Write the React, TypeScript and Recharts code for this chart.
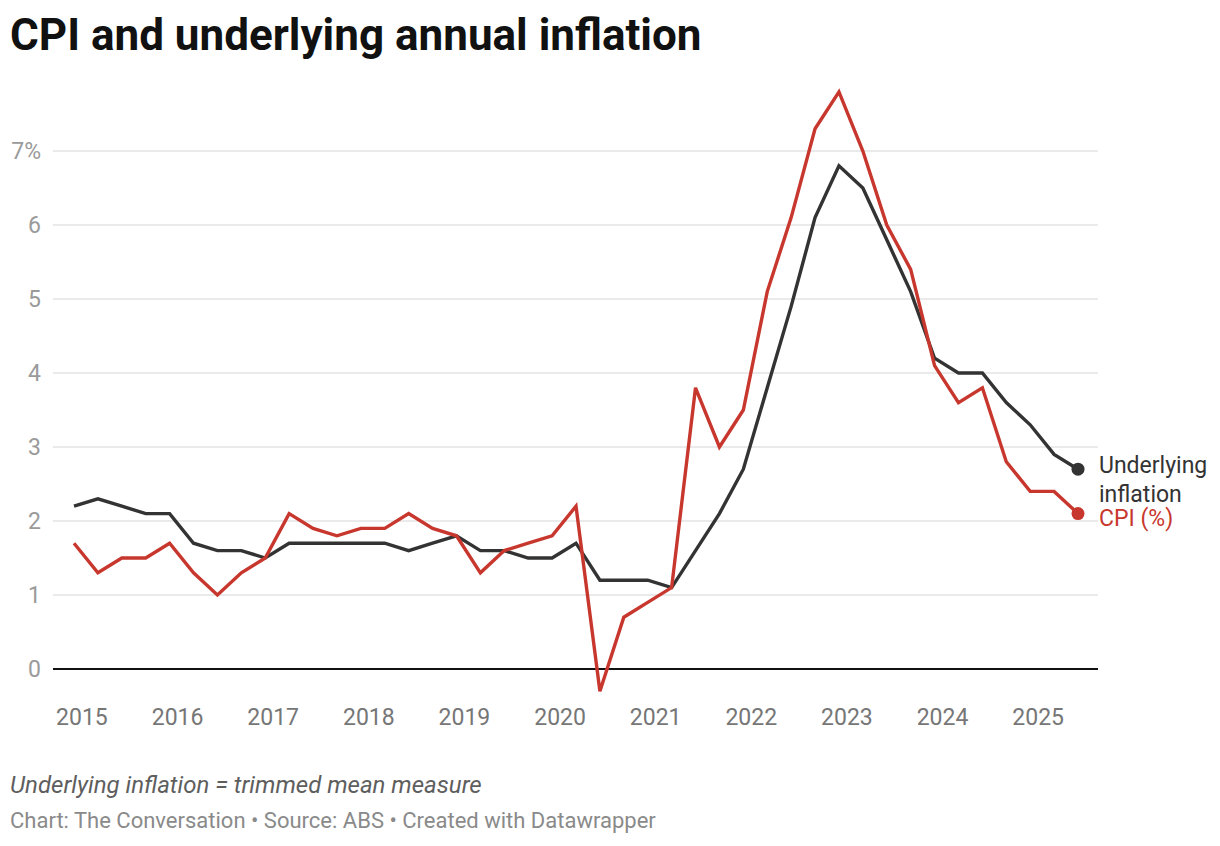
import React from 'react';
import { LineChart, Line, XAxis, YAxis, CartesianGrid, ReferenceLine } from 'recharts';

// quarter end months, Dec 2014 to Jun 2025
const quarters = [
  '2014-12',
  '2015-03', '2015-06', '2015-09', '2015-12',
  '2016-03', '2016-06', '2016-09', '2016-12',
  '2017-03', '2017-06', '2017-09', '2017-12',
  '2018-03', '2018-06', '2018-09', '2018-12',
  '2019-03', '2019-06', '2019-09', '2019-12',
  '2020-03', '2020-06', '2020-09', '2020-12',
  '2021-03', '2021-06', '2021-09', '2021-12',
  '2022-03', '2022-06', '2022-09', '2022-12',
  '2023-03', '2023-06', '2023-09', '2023-12',
  '2024-03', '2024-06', '2024-09', '2024-12',
  '2025-03', '2025-06',
];

const cpi = [
  1.7, 1.3, 1.5, 1.5, 1.7, 1.3, 1.0, 1.3, 1.5, 2.1, 1.9, 1.8, 1.9, 1.9, 2.1, 1.9, 1.8, 1.3, 1.6, 1.7, 1.8, 2.2,
  -0.3, 0.7, 0.9, 1.1, 3.8, 3.0, 3.5, 5.1, 6.1, 7.3, 7.8, 7.0, 6.0, 5.4, 4.1, 3.6, 3.8, 2.8, 2.4, 2.4, 2.1,
];

const underlying = [
  2.2, 2.3, 2.2, 2.1, 2.1, 1.7, 1.6, 1.6, 1.5, 1.7, 1.7, 1.7, 1.7, 1.7, 1.6, 1.7, 1.8, 1.6, 1.6, 1.5, 1.5, 1.7,
  1.2, 1.2, 1.2, 1.1, 1.6, 2.1, 2.7, 3.8, 4.9, 6.1, 6.8, 6.5, 5.8, 5.1, 4.2, 4.0, 4.0, 3.6, 3.3, 2.9, 2.7,
];

const yearTicks = [2015, 2016, 2017, 2018, 2019, 2020, 2021, 2022, 2023, 2024, 2025];
const yTicks = [0, 1, 2, 3, 4, 5, 6, 7];

const data = quarters.map((q, i) => {
  const [y, m] = q.split('-').map(Number);
  return { t: y + (m - 1) / 12, cpi: cpi[i], underlying: underlying[i] };
});

const RED = '#c8372d';
const DARK = '#333333';
const FONT = 'Roboto, "Noto Sans", sans-serif';
const last = data.length - 1;

const endDot = (color: string, lines: string[], dy: number) => (props: any) => {
  const { cx, cy, index, key } = props;
  if (index !== last) return <g key={key} />;
  return (
    <g key={key}>
      <circle cx={cx} cy={cy} r={6.5} fill={color} />
      {lines.map((l, i) => (
        <text key={l} x={cx + 21} y={cy + dy + i * 29} fill={color} fontSize={23} fontFamily={FONT}>
          {l}
        </text>
      ))}
    </g>
  );
};

export default function App() {
  return (
    <div
      style={{
        position: 'absolute',
        left: 0,
        top: 0,
        width: 1220,
        height: 846,
        background: '#fff',
        fontFamily: FONT,
      }}
    >
      <div
        style={{
          position: 'absolute',
          left: 10,
          top: 13,
          fontSize: 44,
          lineHeight: '44px',
          fontWeight: 700,
          color: '#111',
          whiteSpace: 'nowrap',
        }}
      >
        CPI and underlying annual inflation
      </div>

      <LineChart
        width={1220}
        height={846}
        data={data}
        margin={{ top: 77, right: 122, bottom: 87.4, left: 0 }}
        style={{ position: 'absolute', left: 0, top: 0 }}
      >
        <CartesianGrid vertical={false} horizontalValues={yTicks} stroke="#e3e3e3" strokeWidth={1.5} />
        <XAxis
          dataKey="t"
          type="number"
          domain={['dataMin', 'dataMax']}
          ticks={yearTicks}
          padding={{ left: 21, right: 20 }}
          axisLine={false}
          tickLine={false}
          tickSize={0}
          tickMargin={10}
          height={60}
          interval={0}
          tick={{ fontSize: 23, fill: '#767676', fontFamily: FONT }}
        />
        <YAxis
          type="number"
          domain={[-0.4, 8]}
          ticks={yTicks}
          width={53}
          axisLine={false}
          tickLine={false}
          tickSize={0}
          tickMargin={12}
          interval={0}
          tickFormatter={(v: number) => (v === 7 ? '7%' : String(v))}
          tick={{ fontSize: 23, fill: '#9a9a9a', fontFamily: FONT }}
        />
        <ReferenceLine y={0} stroke="#111" strokeWidth={2} />
        <Line
          type="linear"
          dataKey="underlying"
          stroke={DARK}
          strokeWidth={3.4}
          dot={endDot(DARK, ['Underlying', 'inflation'], 4)}
          activeDot={false}
          isAnimationActive={false}
        />
        <Line
          type="linear"
          dataKey="cpi"
          stroke={RED}
          strokeWidth={3.4}
          dot={endDot(RED, ['CPI (%)'], 12)}
          activeDot={false}
          isAnimationActive={false}
        />
      </LineChart>

      <div
        style={{
          position: 'absolute',
          left: 10,
          top: 773,
          fontSize: 24,
          lineHeight: '24px',
          fontStyle: 'italic',
          color: '#5e5e5e',
          whiteSpace: 'nowrap',
        }}
      >
        Underlying inflation = trimmed mean measure
      </div>
      <div
        style={{
          position: 'absolute',
          left: 10,
          top: 810,
          fontSize: 22,
          lineHeight: '22px',
          color: '#8a8a8a',
          whiteSpace: 'nowrap',
        }}
      >
        Chart: The Conversation • Source: ABS • Created with Datawrapper
      </div>
    </div>
  );
}
